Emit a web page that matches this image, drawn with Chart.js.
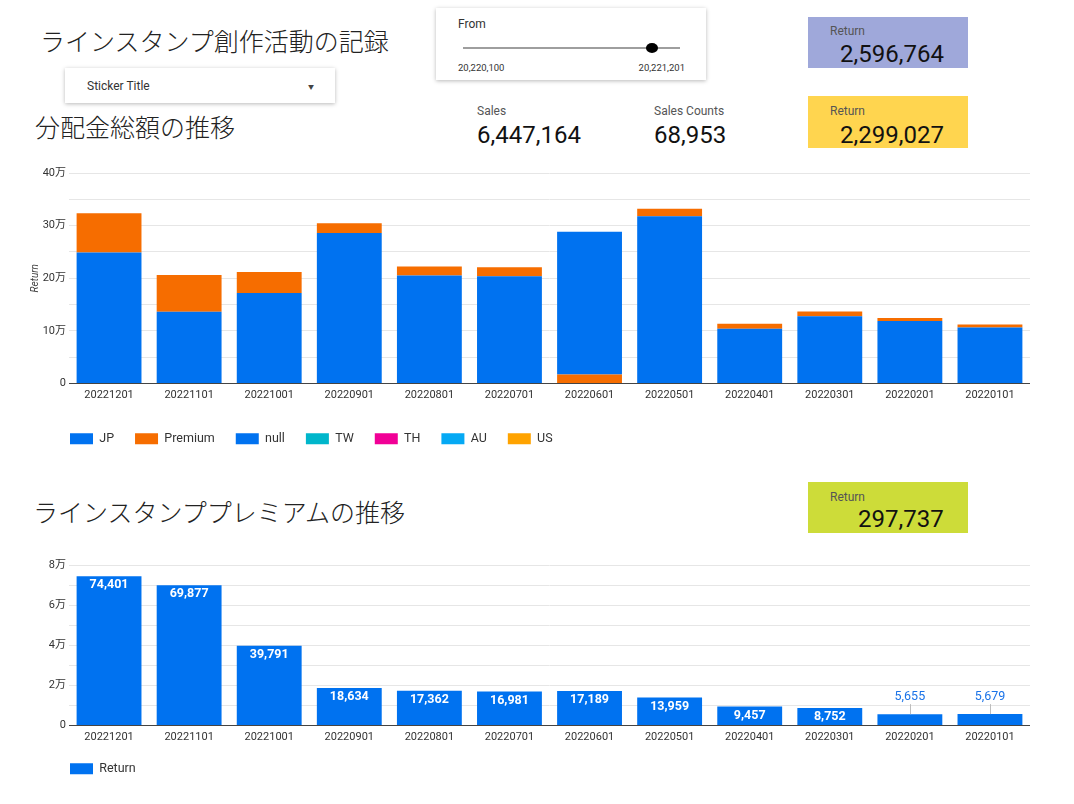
<!DOCTYPE html>
<html><head><meta charset="utf-8">
<script src="https://cdn.jsdelivr.net/npm/chart.js@4"></script>
<style>
html,body{margin:0;padding:0;background:#fff;width:1074px;height:804px;overflow:hidden;font-family:Roboto,"Noto Sans CJK JP",sans-serif;}
.abs{position:absolute;white-space:nowrap;}
.title{font-family:"Noto Sans CJK JP",sans-serif;font-weight:300;font-size:25px;color:#222;line-height:30px;}
.card{position:absolute;background:#fff;box-shadow:0 1px 4px rgba(0,0,0,0.28);}
.box{position:absolute;width:160px;}
.kl{position:absolute;font-size:12px;line-height:14px;color:#555;white-space:nowrap;}
.kv{position:absolute;font-size:24px;line-height:28px;color:#111;white-space:nowrap;}
canvas{position:absolute;}
</style></head><body>

<div class="abs title" id="t1" style="left:40px;top:25px;"></div>
<div class="abs title" id="t2" style="left:35px;top:111px;"></div>
<div class="abs title" id="t3" style="left:33px;top:496px;"></div>

<div class="card" style="left:65px;top:68px;width:270px;height:35px;">
  <div class="kl" id="dd" style="left:22px;top:11px;color:#333;"></div>
  <div class="kl" style="left:243px;top:12px;font-size:6px;color:#444;">▼</div>
</div>

<div class="card" style="left:436px;top:8px;width:270px;height:72px;">
  <div class="kl" id="sl" style="left:22px;top:9px;color:#333;"></div>
  <div style="position:absolute;left:27px;top:39px;width:217px;height:2px;background:#9e9e9e;"></div>
  <div style="position:absolute;left:210px;top:35px;width:12px;height:10px;border-radius:50%;background:#000;"></div>
  <div class="kl" id="smin" style="left:22px;top:54px;font-size:9.5px;line-height:11px;color:#333;"></div>
  <div class="kl" id="smax" style="right:21px;top:54px;font-size:9.5px;line-height:11px;color:#333;"></div>
</div>

<div class="box" style="left:808px;top:17px;height:51px;background:#9fa8da;">
  <div class="kl" id="k0l" style="left:22px;top:7px;"></div><div class="kv" id="k0v" style="left:32px;top:23px;"></div>
</div>
<div class="box" style="left:808px;top:96px;height:52px;background:#ffd54f;">
  <div class="kl" id="k1l" style="left:22px;top:8px;"></div><div class="kv" id="k1v" style="left:32px;top:25px;"></div>
</div>
<div class="abs" style="left:477px;top:104px;"><div class="kl" id="k2l" style="left:0;top:0;"></div><div class="kv" id="k2v" style="left:0;top:17px;"></div></div>
<div class="abs" style="left:654px;top:104px;"><div class="kl" id="k3l" style="left:0;top:0;"></div><div class="kv" id="k3v" style="left:0;top:17px;"></div></div>
<div class="box" style="left:808px;top:482px;height:51px;background:#cddc39;">
  <div class="kl" id="k4l" style="left:22px;top:8px;"></div><div class="kv" id="k4v" style="left:50px;top:23px;"></div>
</div>

<canvas id="c1" width="1010" height="300" style="left:20px;top:155px;width:1010px;height:300px;"></canvas>
<canvas id="c2" width="1010" height="240" style="left:20px;top:545px;width:1010px;height:240px;"></canvas>

<script>
// ---- texts ----
const titles = ['ラインスタンプ創作活動の記録', '分配金総額の推移', 'ラインスタンププレミアムの推移'];
const filterLabel = 'Sticker Title';
const sliderLabels = ['From', '20,220,100', '20,221,201'];
const kpiLabels = ['Return', 'Return', 'Sales', 'Sales Counts', 'Return'];
const kpiValues = [2596764, 2299027, 6447164, 68953, 297737];

// ---- data ----
const months = ['20221201','20221101','20221001','20220901','20220801','20220701','20220601','20220501','20220401','20220301','20220201','20220101'];
const seriesNames = ['JP','Premium','null','TW','TH','AU','US'];
const jpReturn      = [249000,136500,172000,286000,205000,204000,0,318000,104000,128000,119000,106500];
const premiumReturn = [74401,69877,39791,18634,17362,16981,17189,13959,9457,8752,5655,5679];
const nullReturn    = [0,0,0,0,0,0,271027,0,0,0,0,0];
const twReturn      = [0,0,0,0,0,0,0,0,0,0,0,0];
const thReturn      = [0,0,0,0,0,0,0,0,0,0,0,0];
const auReturn      = [0,0,0,0,0,0,0,0,0,0,0,0];
const usReturn      = [0,0,0,0,0,0,0,0,0,0,0,0];
const topTickValues = [0,100000,200000,300000,400000];
const topTickLabels = ['0','10万','20万','30万','40万'];
const bottomTickValues = [0,20000,40000,60000,80000];
const bottomTickLabels = ['0','2万','4万','6万','8万'];

// ---- fill texts ----
document.getElementById('t1').textContent = titles[0];
document.getElementById('t2').textContent = titles[1];
document.getElementById('t3').textContent = titles[2];
document.getElementById('dd').textContent = filterLabel;
document.getElementById('sl').textContent = sliderLabels[0];
document.getElementById('smin').textContent = sliderLabels[1];
document.getElementById('smax').textContent = sliderLabels[2];
kpiLabels.forEach((l,i)=>{
  document.getElementById('k'+i+'l').textContent = l;
  document.getElementById('k'+i+'v').textContent = kpiValues[i].toLocaleString('en-US');
});

// ---- chart helpers ----
const BLUE = '#0072f0';
const colors = [BLUE,'#f66d00',BLUE,'#00b6cb','#f10096','#05a9f4','#ffa300'];
const seriesData = [jpReturn,premiumReturn,nullReturn,twReturn,thReturn,auReturn,usReturn];

const legendShift = {
  id:'legendShift',
  afterLayout(chart, args, opts){ if(chart.legend){ chart.legend.left += (opts.dx||0); } }
};

const barLabels = {
  id:'barLabels',
  afterDatasetsDraw(chart){
    const ctx = chart.ctx;
    const meta = chart.getDatasetMeta(0);
    const data = chart.data.datasets[0].data;
    meta.data.forEach((bar,i)=>{
      const v = data[i];
      const h = bar.base - bar.y;
      const txt = v.toLocaleString('en-US');
      ctx.save();
      ctx.textAlign='center'; ctx.textBaseline='middle';
      if(h >= 16){
        ctx.fillStyle='#fff'; ctx.font='bold 12.5px Roboto';
        ctx.fillText(txt, bar.x, bar.y+9);
      } else {
        ctx.strokeStyle='#bdbdbd'; ctx.lineWidth=1;
        ctx.beginPath(); ctx.moveTo(Math.round(bar.x)+0.5, bar.y); ctx.lineTo(Math.round(bar.x)+0.5, bar.y-10); ctx.stroke();
        ctx.fillStyle='#1a73e8'; ctx.font='12.5px Roboto';
        ctx.fillText(txt, bar.x, bar.y-17);
      }
      ctx.restore();
    });
  }
};

Chart.defaults.font.family = 'Roboto, "Noto Sans CJK JP", sans-serif';
Chart.defaults.color = '#333';

const legendOpts = {position:'bottom', align:'start',
  labels:{boxWidth:23, boxHeight:11, padding:21, color:'#333', font:{size:12.5}}};

new Chart(document.getElementById('c1'), {
  type:'bar',
  data:{
    labels: months,
    datasets: seriesNames.map((n,i)=>({label:n, data:seriesData[i], backgroundColor:colors[i], borderWidth:0,
      categoryPercentage:0.81, barPercentage:1}))
  },
  options:{
    responsive:false, animation:false,
    layout:{padding:{top:18,left:0,right:0,bottom:0}},
    plugins:{legend:legendOpts, tooltip:{enabled:false}, legendShift:{dx:29}},
    scales:{
      x:{stacked:true, grid:{display:false, drawTicks:false}, border:{color:'#444'},
        ticks:{padding:5, font:{size:11}, maxRotation:0, autoSkip:false},
        afterFit(s){ s.height = 28; }},
      y:{stacked:true, min:0, max:400000,
        ticks:{stepSize:50000, padding:3, font:{size:11},
          callback(v){ const k = topTickValues.indexOf(v); return k>=0 ? topTickLabels[k] : ''; }},
        grid:{color:'#e6e6e6', drawTicks:false}, border:{display:false},
        title:{display:true, text:'Return', font:{size:10, style:'italic'}, color:'#444', padding:{top:9,bottom:0}},
        afterFit(s){ s.width = 49; }}
    }
  },
  plugins:[legendShift]
});

new Chart(document.getElementById('c2'), {
  type:'bar',
  data:{
    labels: months,
    datasets:[{label:'Return', data:premiumReturn, backgroundColor:BLUE, borderWidth:0,
      categoryPercentage:0.81, barPercentage:1}]
  },
  options:{
    responsive:false, animation:false,
    layout:{padding:{top:20,left:0,right:0,bottom:0}},
    plugins:{legend:legendOpts, tooltip:{enabled:false}, legendShift:{dx:29}},
    scales:{
      x:{grid:{display:false, drawTicks:false}, border:{color:'#444'},
        ticks:{padding:5, font:{size:11}, maxRotation:0, autoSkip:false},
        afterFit(s){ s.height = 16; }},
      y:{min:0, max:80000,
        ticks:{stepSize:10000, padding:3, font:{size:11},
          callback(v){ const k = bottomTickValues.indexOf(v); return k>=0 ? bottomTickLabels[k] : ''; }},
        grid:{color:'#e6e6e6', drawTicks:false}, border:{display:false},
        afterFit(s){ s.width = 49; }}
    }
  },
  plugins:[legendShift, barLabels]
});
</script>
</body></html>
